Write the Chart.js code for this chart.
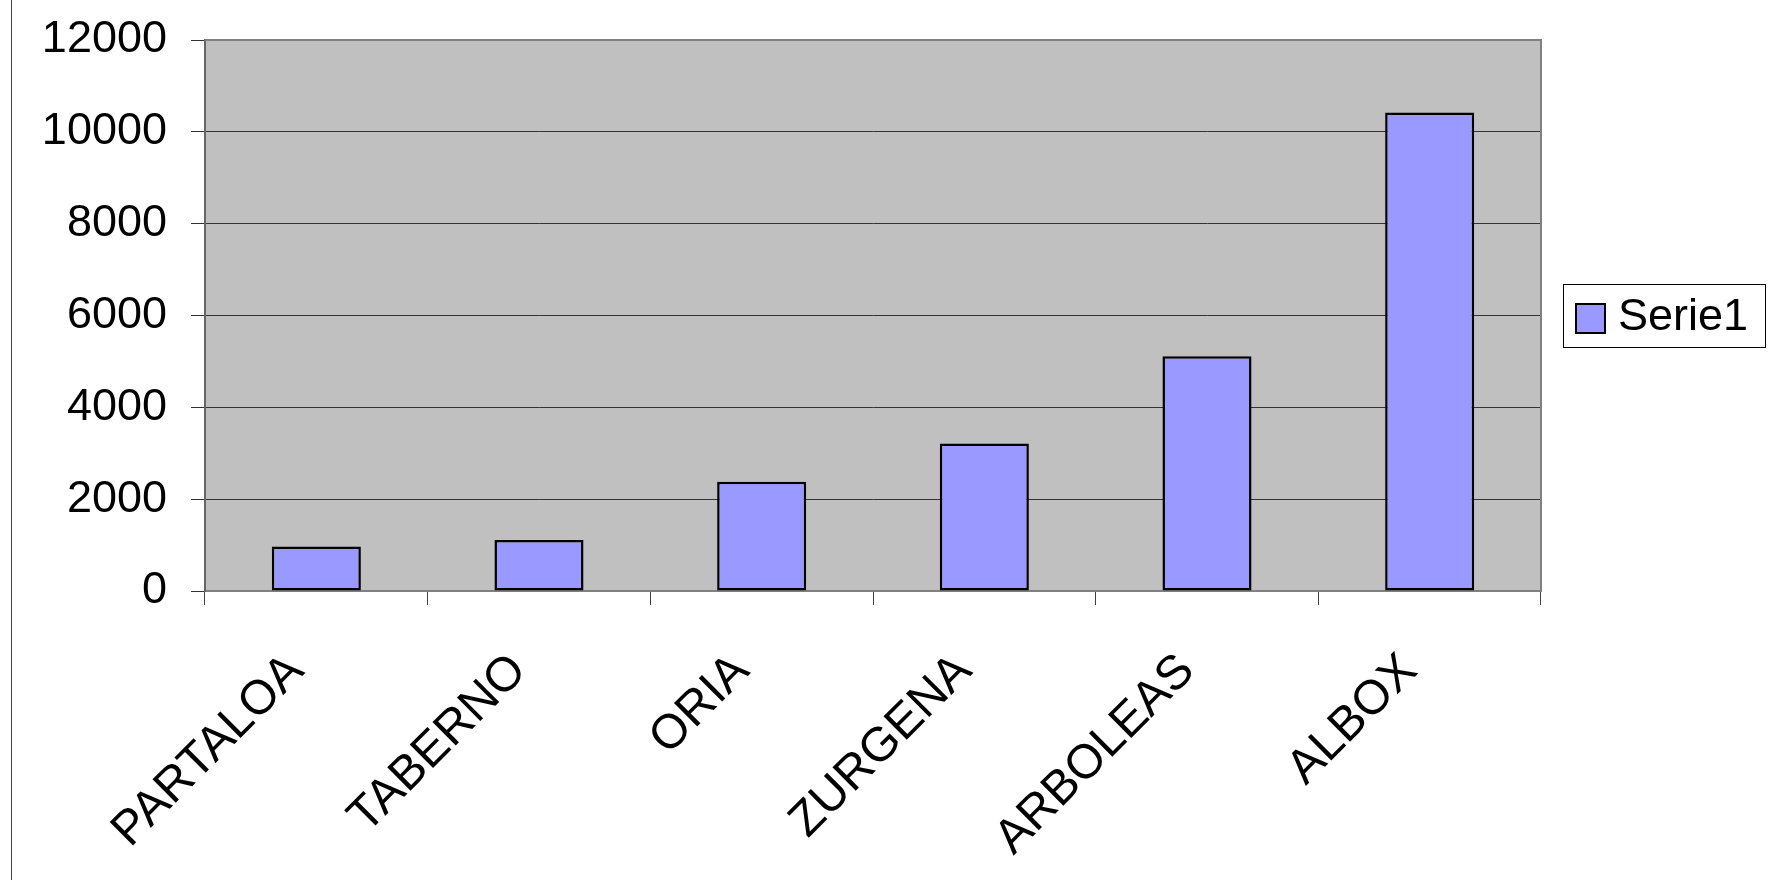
<!DOCTYPE html>
<html>
<head>
<meta charset="utf-8">
<title>Serie1</title>
<script src="https://cdn.jsdelivr.net/npm/chart.js@4/dist/chart.umd.min.js"></script>
<style>
  html, body { margin: 0; padding: 0; background: #fff; }
  #wrap { position: relative; width: 1769px; height: 880px; }
</style>
</head>
<body>
<div id="wrap"><canvas id="chart"></canvas></div>
<script>
// Municipios y valores de la serie
const municipios = ["PARTALOA", "TABERNO", "ORIA", "ZURGENA", "ARBOLEAS", "ALBOX"]
const serie1 = [970, 1110, 2380, 3210, 5110, 10420]
const serieNombre = "Serie1"
const yMin = 0
const yMax = 12000
const yPaso = 2000

const FUENTE = "'Liberation Sans', Arial, sans-serif"
const RELLENO = "#9999FF"

// Fondo gris del área de trazado y línea del marco a la izquierda
const fondoArea = {
  id: "fondoArea",
  beforeDraw(chart) {
    const { ctx, chartArea: a } = chart
    ctx.save()
    ctx.fillStyle = "#C0C0C0"
    ctx.fillRect(a.left, a.top, a.right - a.left, a.bottom - a.top)
    ctx.strokeStyle = "#404040"
    ctx.lineWidth = 1
    ctx.beginPath()
    ctx.moveTo(11.5, 0)
    ctx.lineTo(11.5, chart.height)
    ctx.stroke()
    ctx.restore()
  },
  beforeDatasetsDraw(chart) {
    const { ctx, chartArea: a } = chart
    ctx.save()
    ctx.strokeStyle = "#808080"
    ctx.lineWidth = 2
    ctx.beginPath()
    ctx.moveTo(a.left, a.top)
    ctx.lineTo(a.right, a.top)
    ctx.lineTo(a.right, a.bottom)
    ctx.stroke()
    ctx.restore()
  },
}

// Leyenda con recuadro a la derecha del gráfico
const leyenda = {
  id: "leyenda",
  afterDraw(chart) {
    const { ctx } = chart
    const ds = chart.data.datasets[0]
    ctx.save()
    ctx.fillStyle = "#fff"
    ctx.fillRect(1563, 284, 202, 63)
    ctx.strokeStyle = "#000"
    ctx.lineWidth = 1
    ctx.strokeRect(1563.5, 284.5, 202, 63)
    ctx.fillStyle = ds.backgroundColor
    ctx.fillRect(1576, 304, 29, 29)
    ctx.lineWidth = 2
    ctx.strokeRect(1576, 304, 29, 29)
    ctx.fillStyle = "#000"
    ctx.font = "45px " + FUENTE
    ctx.textBaseline = "middle"
    ctx.textAlign = "left"
    ctx.fillText(ds.label, 1618, 318)
    ctx.restore()
  },
}

const ctx = document.getElementById("chart").getContext("2d")
new Chart(ctx, {
  type: "bar",
  data: {
    labels: municipios,
    datasets: [
      {
        label: serieNombre,
        data: serie1,
        backgroundColor: RELLENO,
        borderColor: "#000",
        borderWidth: 2.5,
        borderSkipped: false,
        categoryPercentage: 1,
        barPercentage: 0.4,
      },
    ],
  },
  options: {
    responsive: true,
    maintainAspectRatio: false,
    animation: false,
    events: [],
    layout: {
      padding: { left: 42, top: 40, right: 228, bottom: 0 },
    },
    plugins: {
      legend: { display: false },
      tooltip: { enabled: false },
    },
    scales: {
      x: {
        afterFit: (scale) => {
          scale.height = 289
          scale.paddingLeft = 0
          scale.paddingRight = 0
        },
        grid: {
          offset: true,
          drawOnChartArea: false,
          drawTicks: true,
          tickLength: 14,
          color: "#404040",
        },
        border: { display: true, color: "#808080", width: 2 },
        ticks: {
          minRotation: 45,
          maxRotation: 45,
          autoSkip: false,
          padding: 38,
          labelOffset: -20,
          color: "#000",
          font: { family: FUENTE, size: 48 },
        },
      },
      y: {
        min: yMin,
        max: yMax,
        afterFit: (scale) => {
          scale.width = 163
          scale.paddingTop = 0
          scale.paddingBottom = 0
        },
        grid: {
          color: "#333",
          lineWidth: 1,
          drawTicks: true,
          tickLength: 14,
        },
        border: { display: true, color: "#666", width: 2 },
        ticks: {
          stepSize: yPaso,
          padding: 24,
          color: "#000",
          font: { family: FUENTE, size: 45 },
          callback: (valor) => String(valor),
        },
      },
    },
  },
  plugins: [fondoArea, leyenda],
})
</script>
</body>
</html>
